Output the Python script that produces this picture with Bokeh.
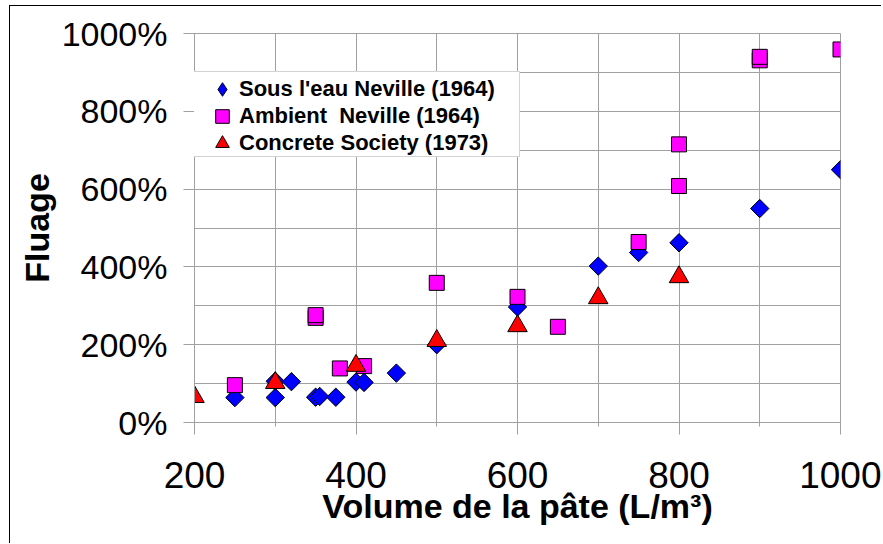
import math
from bokeh.plotting import figure
from bokeh.models import Range1d, FixedTicker, PrintfTickFormatter, Legend, LegendItem
from bokeh.embed import file_html
from bokeh.resources import INLINE

# ---- data ----
sous_x = [250, 300, 300, 320, 350, 355, 375, 400, 410, 450, 500, 600, 700, 750, 800, 900, 1000]
sous_y = [64, 64, 106, 105, 65, 67, 65, 104, 103, 127, 200, 297, 402, 437, 462, 550, 650]

amb_x = [250, 350, 350, 380, 410, 500, 600, 650, 750, 800, 800, 900, 900, 1000]
amb_y = [96, 269, 276, 139, 145, 359, 323, 246, 464, 715, 608, 931, 940, 959]

cs_x = [200, 300, 400, 500, 600, 700, 800]
cs_y = [66, 102, 146, 210, 248, 320, 374]

x_ticks = [200, 400, 600, 800, 1000]
x_minor = [300, 500, 700, 900]
y_ticks = [0, 200, 400, 600, 800, 1000]
y_minor = [100, 300, 500, 700, 900]

labels = ["Sous l'eau Neville (1964)", "Ambient  Neville (1964)", "Concrete Society (1973)"]

FONT = "Liberation Sans"
GRID = "#a0a0a0"
BLUE, MAGENTA, RED = "#0000ff", "#ff00ff", "#ff0000"

p = figure(width=872, height=538, x_range=Range1d(200, 1000), y_range=Range1d(0, 1000),
           output_backend="svg", toolbar_location=None,
           min_border_left=184, min_border_right=42, min_border_top=27, min_border_bottom=122,
           background_fill_color="white", border_fill_color="white",
           margin=(5, 0, 0, 9),
           styles={"border-left": "1px solid black", "border-top": "1px solid black"})
p.outline_line_color = GRID

p.xaxis.ticker = FixedTicker(ticks=x_ticks, minor_ticks=x_minor)
p.yaxis.ticker = FixedTicker(ticks=y_ticks, minor_ticks=y_minor)
p.yaxis.formatter = PrintfTickFormatter(format="%d%%")

for g in (p.xgrid, p.ygrid):
    g.grid_line_color = GRID
    g.minor_grid_line_color = GRID
    g.grid_line_width = 1
    g.minor_grid_line_width = 1

for ax in (p.xaxis, p.yaxis):
    ax.axis_line_color = GRID
    ax.major_tick_line_color = GRID
    ax.minor_tick_line_color = GRID
    ax.major_tick_in = 0
    ax.minor_tick_in = 0
    ax.major_label_text_font = FONT
    ax.major_label_text_color = "black"
    ax.axis_label_text_font = FONT
    ax.axis_label_text_font_style = "bold"
    ax.axis_label_text_color = "black"

p.xaxis.major_tick_out = 12
p.xaxis.minor_tick_out = 4
p.xaxis.major_label_standoff = 27
p.xaxis.major_label_text_font_size = "37px"
p.xaxis.axis_label = "Volume de la pâte (L/m³)"
p.xaxis.axis_label_text_font_size = "34px"
p.xaxis.axis_label_standoff = -4

p.yaxis.major_tick_out = 11
p.yaxis.minor_tick_out = 0
p.yaxis.major_label_standoff = 16
p.yaxis.major_label_text_font_size = "34px"
p.yaxis.axis_label = "Fluage"
p.yaxis.axis_label_text_font_size = "34px"
p.yaxis.axis_label_standoff = 3

# legend key for the diamond series (Bokeh never rotates legend keys); drawn hidden
r1_key = p.scatter(sous_x, sous_y, marker="diamond", fill_color=BLUE, line_color="black",
                   line_width=1, visible=False)
r1 = p.scatter(sous_x, sous_y, marker="square", size=13, angle=math.pi / 4,
               fill_color=BLUE, line_color="black", line_width=1)
r2 = p.scatter(amb_x, amb_y, marker="square", size=15,
               fill_color=MAGENTA, line_color="black", line_width=1)
r3 = p.scatter(cs_x, cs_y, marker="triangle", size=19.5,
               fill_color=RED, line_color="black", line_width=1)
empty = p.scatter(x=[], y=[])

# legend frame (white box with grey border)
frame_legend = Legend(items=[LegendItem(label=" ", renderers=[empty])],
                      location=(-11, 265), margin=0, padding=2,
                      glyph_width=306, glyph_height=80, label_height=80, label_width=20,
                      label_standoff=5, label_text_font_size="10px", label_text_alpha=0,
                      background_fill_color="white", background_fill_alpha=1.0,
                      border_line_color="#a8a8a8", border_line_width=1)
p.add_layout(frame_legend)

# one transparent legend per row, so that the keys can be larger than the row pitch
for i, (lab, rend) in enumerate(zip(labels, [r1_key, r2, r3])):
    leg = Legend(items=[LegendItem(label=lab, renderers=[rend])],
                 location=(11, 315.7 - 27 * i), margin=0, padding=0, spacing=0,
                 glyph_width=34, glyph_height=34, label_height=34, label_standoff=0,
                 label_text_font=FONT, label_text_font_style="bold", label_text_font_size="22px",
                 label_text_color="black",
                 background_fill_alpha=0, border_line_alpha=0)
    p.add_layout(leg)

open("out.html", "w").write(file_html(p, INLINE))
